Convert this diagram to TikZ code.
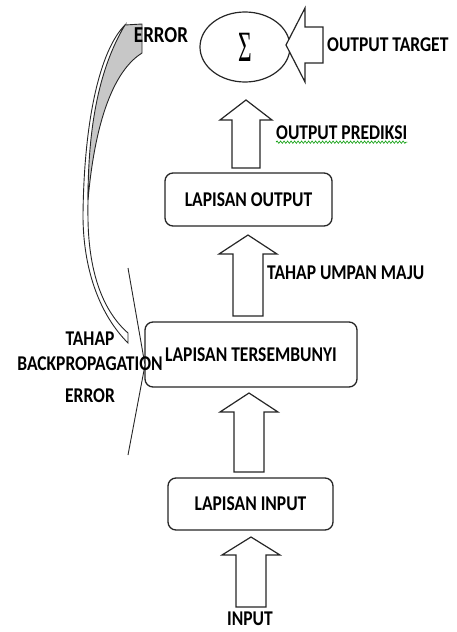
\documentclass[tikz,border=0pt]{standalone}
\usepackage{fontspec}
\usepackage{graphicx}
\setmainfont{Carlito}
\newfontfamily\sigmafont{Liberation Serif}
\usetikzlibrary{decorations.pathmorphing,shapes.geometric}
\newcommand{\tallt}[1]{\scalebox{1}[1.2]{#1}}
\begin{document}
\begin{tikzpicture}[x=1pt,y=-1pt,
  lbl/.style={font=\bfseries\fontsize{17.5}{20}\selectfont, inner sep=0pt},
  layerbox/.style={draw=black!85, line width=1.3pt, rounded corners=8pt, fill=white, inner sep=0pt,
     font=\bfseries\fontsize{17.5}{20}\selectfont},
  blockarrow/.style={draw=black!85, line width=1.2pt, fill=white, line join=miter},
  curvearrow/.style={draw=black!85, line width=0.9pt, fill=white}]
\useasboundingbox (0,0) rectangle (457,632);

% ---- layer boxes ----
\node[layerbox, minimum width=167pt, minimum height=53pt] (out) at (248.5,199.5) {\tallt{LAPISAN OUTPUT}};
\node[layerbox, minimum width=212pt, minimum height=65pt] (hid) at (251,354.5) {\tallt{LAPISAN TERSEMBUNYI}};
\node[layerbox, minimum width=165pt, minimum height=52pt] (inp) at (250.5,504) {\tallt{LAPISAN INPUT}};
\node[draw=black!85, line width=1.2pt, ellipse, minimum width=90pt, minimum height=70pt, inner sep=0pt] (sum) at (245,47)
  {\scalebox{0.65}[1.2]{\sigmafont\fontsize{36}{36}\selectfont Σ}};

% ---- block arrows (up) ----
\draw[blockarrow] (232,168) -- (232,120) -- (220,120) -- (246,100) -- (272,120) -- (260,120) -- (260,168) -- cycle;
\draw[blockarrow] (233,316) -- (233,254) -- (219,254) -- (248,235) -- (277,254) -- (263,254) -- (263,316) -- cycle;
\draw[blockarrow] (234,472) -- (234,412) -- (220,412) -- (249,393) -- (278,412) -- (264,412) -- (264,472) -- cycle;
\draw[blockarrow] (236,607) -- (236,555) -- (222,555) -- (251,537) -- (280,555) -- (266,555) -- (266,607) -- cycle;

% ---- output target arrow (left) ----
\draw[blockarrow] (323,27) -- (305,27) -- (305,8) -- (286,45) -- (305,82) -- (305,63) -- (323,63) -- cycle;

% ---- curved backpropagation arrow ----
\fill[white] (128,268) -- (145,365) -- (128,455) -- cycle;
\path[curvearrow] (125,25) .. controls (100,50) and (84,120) .. (83,215)
   .. controls (83,270) and (100,315) .. (128,343)
   -- (128,333) .. controls (104,312) and (89,275) .. (88,220)
   .. controls (87,160) and (95,80) .. (125,25) -- cycle;
\path[draw=black!85, line width=0.9pt, fill=black!22] (125,25) -- (142,24) -- (142,53)
   .. controls (118,68) and (96,110) .. (88,200)
   .. controls (88,130) and (98,70) .. (125,25) -- cycle;
\draw[black!85, line width=0.9pt] (128,268) -- (145,365) -- (128,455);

% ---- labels ----
\node[lbl, font=\bfseries\fontsize{19}{20}\selectfont] (err1) at (161,35) {\tallt{ERROR}};
\node[lbl, anchor=west] (tgt) at (327,45) {\tallt{OUTPUT TARGET}};
\node[lbl, anchor=west] (pred) at (276,133) {\tallt{OUTPUT PREDIKSI}};
\draw[green!60!black, line width=0.6pt, decorate, decoration={snake, amplitude=1.2pt, segment length=3.5pt}]
  ([yshift=-2pt]pred.south west) -- ([yshift=-2pt]pred.south east);
\node[lbl, anchor=west] (maju) at (267,273) {\tallt{TAHAP UMPAN MAJU}};
\node[lbl] (bp1) at (90,339) {\tallt{TAHAP}};
\node[lbl] (bp2) at (90,364) {\tallt{BACKPROPAGATION}};
\node[lbl] (bp3) at (90,396) {\tallt{ERROR}};
\node[lbl] (in) at (250,619) {\tallt{INPUT}};
\end{tikzpicture}
\end{document}
